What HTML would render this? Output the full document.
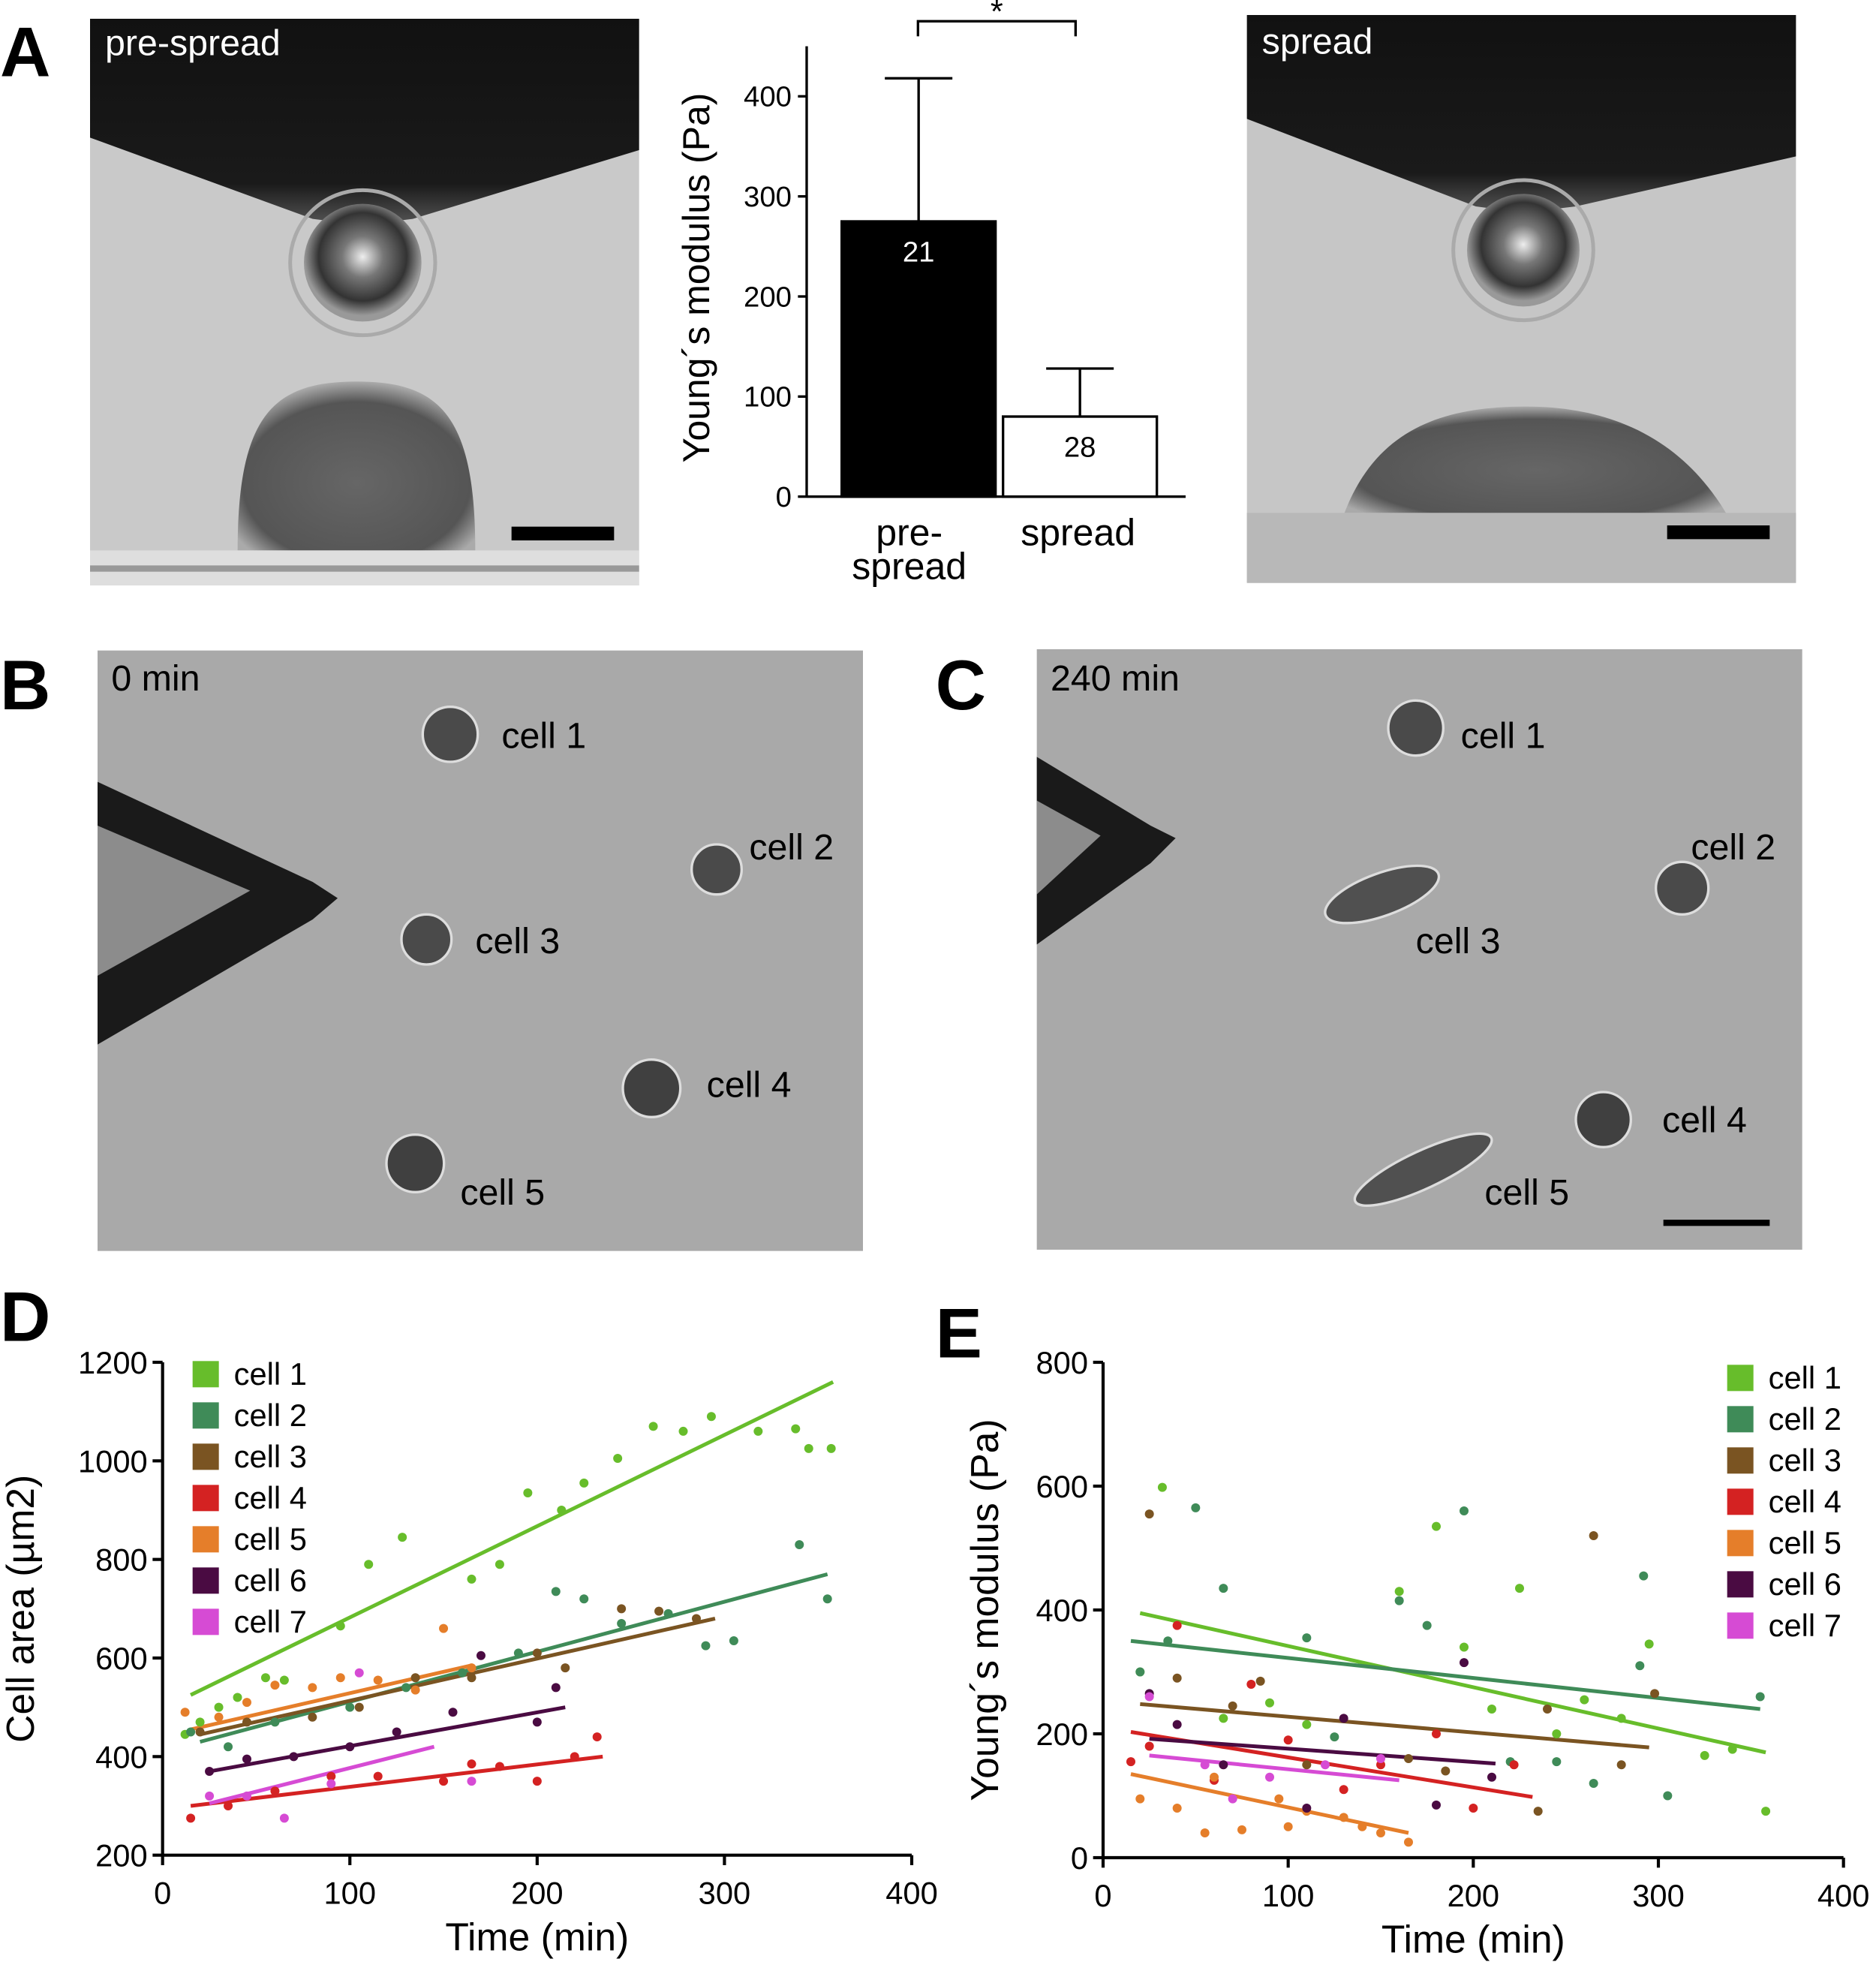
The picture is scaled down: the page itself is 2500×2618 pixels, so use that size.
<!DOCTYPE html>
<html><head><meta charset="utf-8">
<style>
html,body{margin:0;padding:0;background:#fff;width:2500px;height:2618px;overflow:hidden}
#root{position:absolute;left:0;top:0;width:1500px;height:1571px;transform:scale(1.666667);transform-origin:0 0;font-family:"Liberation Sans",Arial,sans-serif}
svg text{font-family:"Liberation Sans",Arial,sans-serif}
.pl{position:absolute;font-weight:bold;font-size:56px;line-height:1}
</style></head><body>
<div id="root">
<div class="pl" style="left:0;top:14px">A</div>
<div class="pl" style="left:0;top:520px">B</div>
<div class="pl" style="left:748px;top:520px">C</div>
<div class="pl" style="left:0;top:1025px">D</div>
<div class="pl" style="left:748px;top:1038px">E</div>

<svg width="1500" height="1571" style="position:absolute;left:0;top:0" id="svg">
<defs>
<radialGradient id="bead" cx="0.5" cy="0.45" r="0.5"><stop offset="0" stop-color="#eee"/><stop offset="0.35" stop-color="#777"/><stop offset="0.75" stop-color="#333"/><stop offset="1" stop-color="#999"/></radialGradient>
<radialGradient id="cellg" cx="0.5" cy="0.6" r="0.6"><stop offset="0" stop-color="#666"/><stop offset="0.8" stop-color="#555"/><stop offset="1" stop-color="#aaa"/></radialGradient>
<linearGradient id="vg" x1="0" y1="0" x2="0" y2="1"><stop offset="0" stop-color="#111"/><stop offset="0.8" stop-color="#1a1a1a"/><stop offset="1" stop-color="#555"/></linearGradient>
</defs>
<g>
<rect x="72" y="15" width="439" height="453" fill="#c9c9c9"/>
<path d="M72 15 H511 V120 L330 175 L290 180 L250 175 L72 110 Z" fill="url(#vg)"/>
<circle cx="290" cy="210" r="47" fill="url(#bead)"/>
<circle cx="290" cy="210" r="58" fill="none" stroke="#aaa" stroke-width="3"/>
<path d="M190 440 C190 330 220 305 285 305 C350 305 380 330 380 440 Z" fill="url(#cellg)"/>
<rect x="72" y="440" width="439" height="28" fill="#dedede"/>
<rect x="72" y="452" width="439" height="5" fill="#999"/>
<rect x="409" y="421" width="82" height="11" fill="#000"/>
<text x="84" y="44" font-size="29" fill="#fff">pre-spread</text>
</g>
<g>
<rect x="997" y="12" width="439" height="454" fill="#c6c6c6"/>
<path d="M997 12 H1436 V125 L1260 165 L1218 170 L1180 165 L997 95 Z" fill="url(#vg)"/>
<circle cx="1218" cy="200" r="45" fill="url(#bead)"/>
<circle cx="1218" cy="200" r="56" fill="none" stroke="#aaa" stroke-width="3"/>
<path d="M1075 410 C1100 345 1150 325 1220 325 C1300 325 1350 360 1380 410 Z" fill="url(#cellg)"/>
<rect x="997" y="410" width="439" height="56" fill="#b8b8b8"/>
<rect x="1333" y="420" width="82" height="11" fill="#000"/>
<text x="1009" y="43" font-size="29" fill="#fff">spread</text>
</g>
<g>
<rect x="78" y="520" width="612" height="480" fill="#a9a9a9"/>
<path d="M78 625 L250 705 L270 718 L250 735 L78 835 Z" fill="#1a1a1a"/>
<path d="M78 660 L200 712 L78 780 Z" fill="#8c8c8c"/>
<circle cx="360" cy="587" r="22" fill="#4a4a4a" stroke="#ddd" stroke-width="2"/>
<circle cx="573" cy="695" r="20" fill="#4a4a4a" stroke="#ddd" stroke-width="2"/>
<circle cx="341" cy="751" r="20" fill="#4a4a4a" stroke="#ddd" stroke-width="2"/>
<circle cx="521" cy="870" r="23" fill="#404040" stroke="#ddd" stroke-width="2"/>
<circle cx="332" cy="930" r="23" fill="#404040" stroke="#ddd" stroke-width="2"/>
<text x="89" y="552" font-size="29">0 min</text>
<text x="401" y="598" font-size="29">cell 1</text>
<text x="599" y="687" font-size="29">cell 2</text>
<text x="380" y="762" font-size="29">cell 3</text>
<text x="565" y="877" font-size="29">cell 4</text>
<text x="368" y="963" font-size="29">cell 5</text>
</g>
<g>
<rect x="829" y="519" width="612" height="480" fill="#a9a9a9"/>
<path d="M829 605 L920 660 L940 670 L920 690 L829 755 Z" fill="#1a1a1a"/>
<path d="M829 640 L880 668 L829 715 Z" fill="#8c8c8c"/>
<circle cx="1132" cy="582" r="22" fill="#4a4a4a" stroke="#ddd" stroke-width="2"/>
<circle cx="1345" cy="710" r="21" fill="#4a4a4a" stroke="#ddd" stroke-width="2"/>
<ellipse cx="1105" cy="715" rx="48" ry="17" transform="rotate(-20 1105 715)" fill="#505050" stroke="#ddd" stroke-width="2"/>
<circle cx="1282" cy="895" r="22" fill="#404040" stroke="#ddd" stroke-width="2"/>
<ellipse cx="1138" cy="935" rx="60" ry="15" transform="rotate(-25 1138 935)" fill="#505050" stroke="#ddd" stroke-width="2"/>
<rect x="1330" y="975" width="85" height="5" fill="#000"/>
<text x="840" y="552" font-size="29">240 min</text>
<text x="1168" y="598" font-size="29">cell 1</text>
<text x="1352" y="687" font-size="29">cell 2</text>
<text x="1132" y="762" font-size="29">cell 3</text>
<text x="1329" y="905" font-size="29">cell 4</text>
<text x="1187" y="963" font-size="29">cell 5</text>
</g>
<g id="barchart"></g>
<g id="chartD"></g>
<g id="chartE"></g>
</svg>
</div>
<script>
const NS="http://www.w3.org/2000/svg";
function mk(parent,tag,attrs,txt){const e=document.createElementNS(NS,tag);for(const k in attrs)e.setAttribute(k,attrs[k]);if(txt!==undefined)e.textContent=txt;parent.appendChild(e);return e;}

const barCategories=["pre-spread","spread"];
const barValues=[275,80];
const barErrors=[418,128];
const barCounts=["21","28"];
const barTicks=[0,100,200,300,400];
(function(){
  const g=document.getElementById('barchart');
  const y0=397,k=0.8,ax=645;
  const ys=v=>y0-v*k;
  const xs=[673,802],bw=123;
  const fills=["#000","#fff"];
  barValues.forEach((v,i)=>{
    const cx=xs[i]+bw/2;
    const l=mk(g,'line',{x1:cx,x2:cx,y1:ys(v),y2:ys(barErrors[i]),stroke:'#000','stroke-width':2});
    
    
    const c=mk(g,'line',{x1:cx-27,x2:cx+27,y1:ys(barErrors[i]),y2:ys(barErrors[i]),stroke:'#000','stroke-width':2});
    
    
    const r=mk(g,'rect',{x:xs[i],y:ys(v),width:bw,height:v*k,fill:fills[i],stroke:'#000','stroke-width':2});
    
    
    const t=mk(g,'text',{x:cx,y:ys(v)+32,'font-size':23,'text-anchor':'middle',fill:i==0?'#fff':'#000'},barCounts[i]);
    
    
  });
  mk(g,'line',{x1:ax,x2:ax,y1:37,y2:y0,stroke:'#000','stroke-width':2});
  mk(g,'line',{x1:ax,x2:948,y1:y0,y2:y0,stroke:'#000','stroke-width':2});
  barTicks.forEach(t=>{
    mk(g,'line',{x1:ax-7,x2:ax,y1:ys(t),y2:ys(t),stroke:'#000','stroke-width':2});
    const tx=mk(g,'text',{x:ax-12,y:ys(t)+8,'font-size':23,'text-anchor':'end'},t);
    
    
  });
  const yt=mk(g,'text',{x:0,y:0,'font-size':30,'text-anchor':'middle',transform:'translate(567,222) rotate(-90)'},'Young´s modulus (Pa)');
  
  
  mk(g,'text',{x:727,y:436,'font-size':30,'text-anchor':'middle'},'pre-');
  mk(g,'text',{x:727,y:463,'font-size':30,'text-anchor':'middle'},'spread');
  mk(g,'text',{x:862,y:436,'font-size':30,'text-anchor':'middle'},'spread');
  mk(g,'path',{d:'M734 29 V17 H860 V29',fill:'none',stroke:'#000','stroke-width':2});
  const st=mk(g,'text',{x:797,y:18,'font-size':26,'text-anchor':'middle'},'*');
  
  
})();

const cellNames=["cell 1","cell 2","cell 3","cell 4","cell 5","cell 6","cell 7"];
const cellColors=["#67bd2b","#3f8b58","#7a5422","#d42222","#e57e2a","#4a0b42","#d64bd4"];
const xTicks=[0,100,200,300,400];
const areaTicks=[200,400,600,800,1000,1200];
const modTicks=[0,200,400,600,800];
const areaPoints=[
 [[20,470],[40,520],[55,560],[65,555],[95,665],[110,790],[128,845],[165,760],[180,790],[195,935],[213,900],[225,955],[243,1005],[262,1070],[278,1060],[293,1090],[318,1060],[338,1065],[345,1025],[357,1025],[12,445],[30,500]],
 [[15,450],[35,420],[60,470],[100,500],[130,540],[160,570],[190,610],[210,735],[225,720],[245,670],[270,690],[290,625],[305,635],[340,830],[355,720]],
 [[20,450],[45,470],[80,480],[105,500],[135,560],[165,560],[200,610],[215,580],[245,700],[265,695],[285,680]],
 [[15,275],[35,300],[60,330],[90,360],[115,360],[150,350],[165,385],[180,380],[200,350],[220,400],[232,440]],
 [[12,490],[30,480],[45,510],[60,545],[80,540],[95,560],[115,555],[135,535],[150,660],[165,580]],
 [[25,370],[45,395],[70,400],[100,420],[125,450],[155,490],[170,605],[200,470],[210,540]],
 [[25,320],[45,320],[65,275],[90,345],[105,570],[165,350]]
];
const areaLines=[[15,525,358,1160],[20,430,355,770],[20,445,295,680],[15,300,235,400],[15,455,165,585],[25,370,215,500],[25,305,145,420]];
const modPoints=[
 [[20,300],[32,598],[65,225],[90,250],[110,215],[160,430],[180,535],[195,340],[210,240],[225,435],[245,200],[260,255],[280,225],[295,345],[325,165],[340,175],[358,75]],
 [[20,300],[35,350],[50,565],[65,435],[110,355],[125,195],[160,415],[175,375],[195,560],[220,155],[245,155],[265,120],[290,310],[292,455],[305,100],[355,260]],
 [[25,555],[40,290],[70,245],[85,285],[110,150],[165,160],[185,140],[240,240],[265,520],[280,150],[298,265],[235,75]],
 [[15,155],[25,180],[40,375],[60,125],[80,280],[100,190],[130,110],[150,150],[180,200],[200,80],[222,150]],
 [[20,95],[40,80],[55,40],[75,45],[95,95],[110,75],[130,65],[140,50],[150,40],[165,25],[60,130],[100,50]],
 [[25,265],[40,215],[65,150],[110,80],[130,225],[180,85],[195,315],[210,130]],
 [[25,260],[55,150],[70,95],[90,130],[120,150],[150,160]]
];
const modLines=[[20,395,358,170],[15,350,355,240],[20,248,295,178],[15,203,232,98],[15,135,165,40],[25,192,212,152],[25,165,160,125]];

function scatter(id,opt){
  const g=document.getElementById(id);
  const xs=v=>opt.x0+(v-opt.xmin)*opt.kx;
  const ys=v=>opt.y0-(v-opt.ymin)*opt.ky;
  opt.lines.forEach((L,i)=>{
    const l=mk(g,'line',{x1:xs(L[0]),y1:ys(L[1]),x2:xs(L[2]),y2:ys(L[3]),stroke:cellColors[i],'stroke-width':3});
    
    
  });
  opt.points.forEach((ps,i)=>ps.forEach(p=>{
    const c=mk(g,'circle',{cx:xs(p[0]),cy:ys(p[1]),r:3.6,fill:cellColors[i]});
    
    
  }));
  const top=ys(opt.yticks[opt.yticks.length-1]);
  mk(g,'line',{x1:opt.x0,x2:opt.x0,y1:top,y2:opt.y0,stroke:'#000','stroke-width':2.5});
  mk(g,'line',{x1:opt.x0,x2:xs(400),y1:opt.y0,y2:opt.y0,stroke:'#000','stroke-width':2.5});
  xTicks.forEach(t=>{
    mk(g,'line',{x1:xs(t),x2:xs(t),y1:opt.y0,y2:opt.y0+8,stroke:'#000','stroke-width':2.5});
    const tx=mk(g,'text',{x:xs(t),y:opt.y0+39,'font-size':25,'text-anchor':'middle'},t);
    
    
  });
  opt.yticks.forEach(t=>{
    mk(g,'line',{x1:opt.x0-8,x2:opt.x0,y1:ys(t),y2:ys(t),stroke:'#000','stroke-width':2.5});
    const tx=mk(g,'text',{x:opt.x0-12,y:ys(t)+9,'font-size':25,'text-anchor':'end'},t);
    
    
  });
  const xt=mk(g,'text',{x:xs(200),y:opt.y0+76,'font-size':31,'text-anchor':'middle'},'Time (min)');
  
  
  const yt=mk(g,'text',{x:0,y:0,'font-size':31,'text-anchor':'middle',transform:'translate('+opt.ytx+','+(opt.y0+top)/2+') rotate(-90)'},opt.ytitle);
  
  
  cellNames.forEach((n,i)=>{
    const y=opt.ly+i*33;
    const r=mk(g,'rect',{x:opt.lx,y:y-10,width:21,height:21,fill:cellColors[i]});
    
    
    const t=mk(g,'text',{x:opt.lx+33,y:y+9,'font-size':25},n);
    
    
  });
}
scatter('chartD',{x0:130,y0:1483,xmin:0,ymin:200,kx:1.4975,ky:0.394,points:areaPoints,lines:areaLines,yticks:areaTicks,ytitle:'Cell area (µm2)',ytx:27,lx:154,ly:1098});
scatter('chartE',{x0:882,y0:1485,xmin:0,ymin:0,kx:1.48,ky:0.495,points:modPoints,lines:modLines,yticks:modTicks,ytitle:'Young´s modulus (Pa)',ytx:798,lx:1381,ly:1101});
</script>
</body></html>
